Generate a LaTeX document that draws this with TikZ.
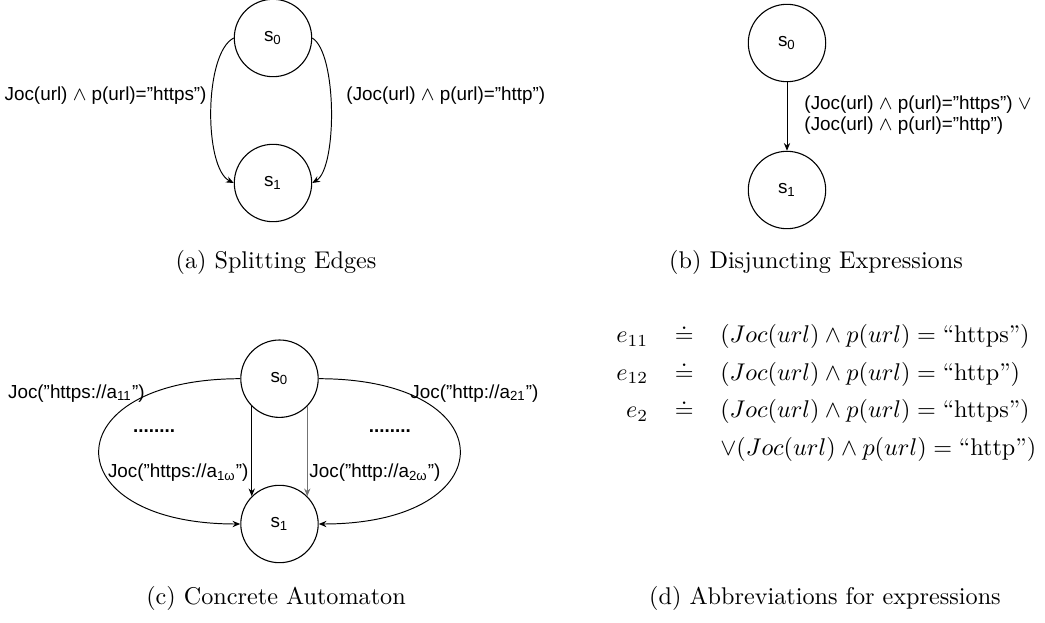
\documentclass[tikz,border=0pt]{standalone}
\usepackage{fontspec}
\newfontfamily\diagfamily{Liberation Sans}
\newcommand\dgfont{\diagfamily\fontsize{7.8}{8.6}\selectfont}
\usetikzlibrary{arrows.meta}

\tikzset{
  statecirc/.style={circle, draw, line width=0.45pt, minimum size=32pt, inner sep=0pt, font=\dgfont},
  lbl/.style={font=\dgfont, inner sep=0pt},
  capt/.style={font=\normalfont, inner sep=0pt},
  arr/.style={-{Stealth[length=3.2pt,width=2.6pt]}, line width=0.4pt},
}

\begin{document}
\begin{tikzpicture}[x=0.4134pt, y=-0.4134pt]
\useasboundingbox (0,0) rectangle (1045,623);

% (a) two parallel edges
\node[statecirc] (a0) at (273,38) {s\textsubscript{0}};
\node[statecirc] (a1) at (273,183) {s\textsubscript{1}};
\draw[arr] (a0.west) .. controls +(-30,15) and +(-30,-15) .. (a1.west);
\draw[arr] (a0.east) .. controls +(25,15) and +(25,-15) .. (a1.east);
\node[lbl, anchor=east] (la) at (207,96) {Joc(url) \ensuremath{\wedge} p(url)=”https”)};
\node[lbl, anchor=west] (ra) at (346,96) {(Joc(url) \ensuremath{\wedge} p(url)=”http”)};
\node[capt] (capa) at (276,262) {(a) Splitting Edges};

% (b) one edge with a disjunction
\node[statecirc] (b0) at (787,43) {s\textsubscript{0}};
\node[statecirc] (b1) at (787,190) {s\textsubscript{1}};
\draw[arr] (b0) -- (b1);
\node[lbl, anchor=west, align=left] (lb) at (804,115)
  {(Joc(url) \ensuremath{\wedge} p(url)=”https”) \ensuremath{\vee}\\(Joc(url) \ensuremath{\wedge} p(url)=”http”)};
\node[capt] (capb) at (816,262) {(b) Disjuncting Expressions};

% (c) concrete automaton
\node[statecirc] (c0) at (279.5,378.7) {s\textsubscript{0}};
\node[statecirc] (c1) at (279.5,524) {s\textsubscript{1}};
\draw[arr] (c0.west) .. controls +(-188,0) and +(-188,0) .. (c1.west);
\draw[arr] (c0.east) .. controls +(188,0) and +(188,0) .. (c1.east);
\draw[arr] (c0.south west) -- (c1.north west);
\draw[arr, draw=black!55] (c0.south east) -- (c1.north east);
\node[lbl, anchor=west] (lc1) at (7.6,393.5) {Joc(”https://a\textsubscript{11}”)};
\node[lbl, anchor=east] (rc1) at (539,393.5) {Joc(”http://a\textsubscript{21}”)};
\node[lbl, anchor=east] (lc2) at (249,473) {Joc(”https://a\textsubscript{1ω}”)};
\node[lbl, anchor=west] (rc2) at (309,473) {Joc(”http://a\textsubscript{2ω}”)};
\node[lbl, anchor=base west] (dl) at (132.6,432.5) {\bfseries ........};
\node[lbl, anchor=base west] (dr) at (368.5,432.5) {\bfseries ........};
\node[capt] (capc) at (276,598) {(c) Concrete Automaton};

% (d) abbreviations
\node[anchor=north west, inner sep=0pt] (abbr) at (616,322)
  {$\begin{array}{@{}r@{\hspace{11pt}}c@{\hspace{11pt}}l@{}}
    e_{11} & {\doteq} & (Joc(url) \wedge p(url) = \mbox{``https''})\\[3.5pt]
    e_{12} & {\doteq} & (Joc(url) \wedge p(url) = \mbox{``http''})\\[3.5pt]
    e_{2}  & {\doteq} & (Joc(url) \wedge p(url) = \mbox{``https''})\\[3.5pt]
           &          & \vee(Joc(url) \wedge p(url) = \mbox{``http''})
  \end{array}$};
\node[capt] (capd) at (825,598) {(d) Abbreviations for expressions};
\end{tikzpicture}
\end{document}
